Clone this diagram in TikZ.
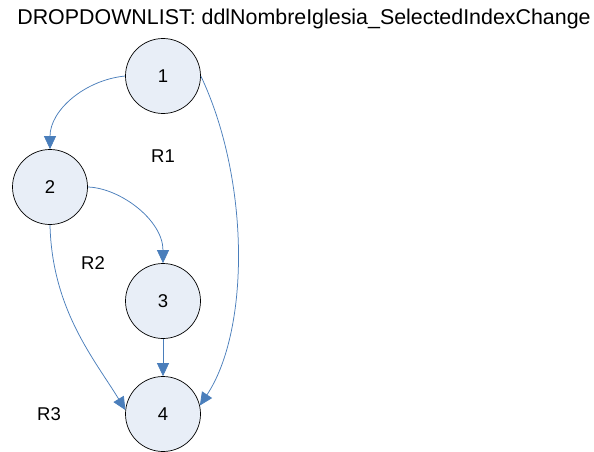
\documentclass[tikz,border=0pt]{standalone}
\usepackage{fontspec}
\setmainfont{Liberation Sans}
\usetikzlibrary{arrows.meta}
\definecolor{nodefill}{HTML}{E8EEF7}
\definecolor{edgeblue}{HTML}{4A7EBB}
\begin{document}
\begin{tikzpicture}[x=1pt,y=-1pt,
  vertex/.style={circle,draw=black,line width=0.7pt,fill=nodefill,minimum size=75pt,inner sep=0pt,font=\fontsize{18.5}{20}\selectfont},
  edge/.style={draw=edgeblue,line width=0.75pt,-{Triangle[length=13pt,width=12pt]}},
  lbl/.style={font=\fontsize{18.5}{20}\selectfont,inner sep=0pt}]
\useasboundingbox (0,0) rectangle (594,452);
\node[anchor=base,inner sep=0pt,font=\fontsize{21.4}{24}\selectfont] (title) at (304,24.3) {DROPDOWNLIST: ddlNombreIglesia\_SelectedIndexChange};
\node[vertex] (n1) at (163,76) {1};
\node[vertex] (n2) at (50,187) {2};
\node[vertex] (n3) at (163,301) {3};
\node[vertex] (n4) at (163,414) {4};
\node[lbl] (r1) at (163,156) {R1};
\node[lbl] (r2) at (93,263) {R2};
\node[lbl] (r3) at (49,414) {R3};
\draw[edge] (n1.west) .. controls (85,80) and (50,110) .. (n2.north);
\draw[edge] (n2.east) .. controls (120,188) and (163,220) .. (n3.north);
\draw[edge] (n2.south) .. controls (52,310) and (95,360) .. (n4.174);
\draw[edge] (n1.east) .. controls (250,180) and (250,330) .. (n4.13);
\draw[edge] (n3.south) -- (n4.north);
\end{tikzpicture}
\end{document}
